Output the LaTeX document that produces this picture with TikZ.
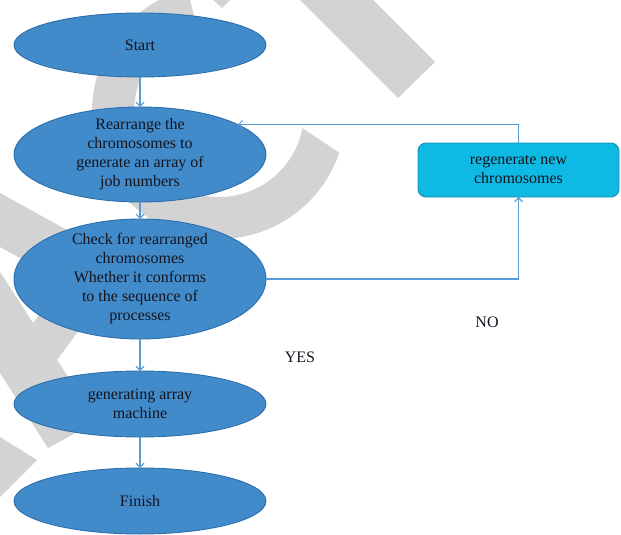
\documentclass[tikz,border=0pt]{standalone}
\usepackage{fontspec}
\setmainfont{Liberation Serif}
\usetikzlibrary{arrows.meta,calc,shapes.geometric}
\definecolor{ellfill}{RGB}{66,139,202}
\definecolor{elldraw}{RGB}{44,110,172}
\definecolor{linkblue}{RGB}{91,155,213}
\definecolor{boxfill}{RGB}{14,185,228}
\definecolor{boxdraw}{RGB}{22,142,182}
\definecolor{markgrey}{RGB}{211,211,211}
\definecolor{ink}{RGB}{20,20,30}
\begin{document}
\begin{tikzpicture}[x=1pt,y=1pt,
  flowell/.style={ellipse, draw=elldraw, fill=ellfill, line width=0.9pt,
    inner sep=0pt, outer sep=0pt, minimum width=252pt},
  flowtext/.style={text=ink, font=\fontsize{16}{19}\selectfont, align=center, inner sep=0pt},
  flowbox/.style={rectangle, rounded corners=8pt, draw=boxdraw, fill=boxfill,
    line width=0.9pt, inner sep=0pt, outer sep=0pt,
    minimum width=201pt, minimum height=54pt, flowtext},
  link/.style={draw=linkblue, line width=1.1pt, -{Straight Barb[length=4pt,width=8pt]}},
  watermark/.style={fill=markgrey}]
\useasboundingbox (0,0) rectangle (621,-535);

% grey background lettering
\begin{scope}
  \clip (0,0) rectangle (621,-535);
  \fill[watermark] (290,10) -- (363,10) -- (435,-62) -- (398,-98) -- cycle;
  \fill[watermark] (211,2) -- (232,2) -- (222,-8) -- cycle;
  \fill[watermark] (219,-112) ++(104.5:127)
    arc[start angle=104.5, end angle=341.3, radius=127]
    -- ($(219,-112)+(349.1:85)$)
    arc[start angle=349.1, end angle=104.5, radius=85] -- cycle;
  \fill[watermark] (-20,-182) -- (110,-253.7) -- (60,-280.1) -- (-20,-236) -- cycle;
  \fill[watermark] (-10,-256.6) -- (96.9,-421.3) -- (48,-448) -- (-10,-357.4) -- cycle;
  \fill[watermark] (33,-323) -- (93,-242) -- (117,-279) -- (57,-360) -- cycle;
  \fill[watermark] (-10,-430.8) -- (37,-460) -- (-10,-507) -- cycle;
\end{scope}

% process steps
\node[flowell, minimum height=64pt] (start) at (140,-45) {};
\node[flowtext] (start-t) at (start) {Start};
\node[flowell, minimum height=95pt] (rearr) at (140,-154.5) {};
\node[flowtext] (rearr-t) at (rearr) {Rearrange the\\chromosomes to\\generate an array of\\job numbers};
\node[flowell, minimum height=120pt] (check) at (140,-279) {};
\node[flowtext] (check-t) at (check) {Check for rearranged\\chromosomes\\Whether it conforms\\to the sequence of\\processes};
\node[flowell, minimum height=66pt] (gen) at (140,-404) {};
\node[flowtext] (gen-t) at (gen) {generating array\\machine};
\node[flowell, minimum height=66pt] (finish) at (140,-501) {};
\node[flowtext] (finish-t) at (finish) {Finish};
\node[flowbox] (regen) at (518.5,-170) {regenerate new\\chromosomes};

% connectors
\draw[link] (start) -- (rearr);
\draw[link] (rearr) -- (check);
\draw[link] (check) -- (gen);
\draw[link] (gen) -- (finish);
\draw[link] (check.east) -| (regen.south);
\draw[link] (regen.north) |- (rearr.17.5);

% branch labels
\node[flowtext] (yes) at (300,-357) {YES};
\node[flowtext] (no) at (487,-322) {NO};
\end{tikzpicture}
\end{document}
